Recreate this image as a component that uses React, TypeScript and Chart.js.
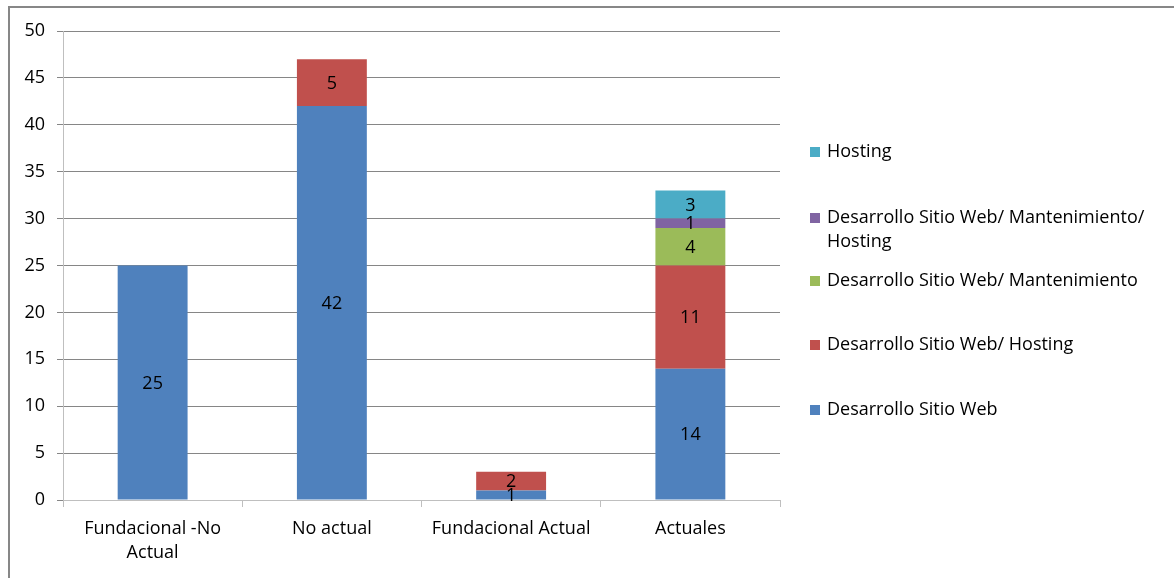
import React, { useEffect, useRef } from "react";
import { Chart, registerables } from "chart.js";

Chart.register(...registerables);

const categories: (string | string[])[] = [
  ["Fundacional -No", "Actual"],
  "No actual",
  "Fundacional Actual",
  "Actuales",
];

const seriesNames = [
  "Desarrollo Sitio Web",
  "Desarrollo Sitio Web/ Hosting",
  "Desarrollo Sitio Web/ Mantenimiento",
  "Desarrollo Sitio Web/ Mantenimiento/ Hosting",
  "Hosting",
];

const desarrollo = [25, 42, 1, 14];
const desarrolloHosting = [null, 5, 2, 11];
const desarrolloMant = [null, null, null, 4];
const desarrolloMantHosting = [null, null, null, 1];
const hosting = [null, null, null, 3];

const seriesColors = ["#4F81BD", "#C0504D", "#9BBB59", "#8064A2", "#4BACC6"];

const yTicks = [0, 5, 10, 15, 20, 25, 30, 35, 40, 45, 50];

const FONT = "'Open Sans', 'Noto Sans', sans-serif";
const FONT_SIZE = 18;

// Legend lines for each series (wrapped like a narrow legend box)
const legendLines: Record<string, string[]> = {
  "Hosting": ["Hosting"],
  "Desarrollo Sitio Web/ Mantenimiento/ Hosting": ["Desarrollo Sitio Web/ Mantenimiento/", "Hosting"],
  "Desarrollo Sitio Web/ Mantenimiento": ["Desarrollo Sitio Web/ Mantenimiento"],
  "Desarrollo Sitio Web/ Hosting": ["Desarrollo Sitio Web/ Hosting"],
  "Desarrollo Sitio Web": ["Desarrollo Sitio Web"],
};

const valueLabels = {
  id: "valueLabels",
  afterDatasetsDraw(chart: any) {
    const ctx = chart.ctx;
    ctx.save();
    ctx.font = `${FONT_SIZE}px ${FONT}`;
    ctx.fillStyle = "#000";
    ctx.textAlign = "center";
    ctx.textBaseline = "middle";
    chart.data.datasets.forEach((ds: any, di: number) => {
      const meta = chart.getDatasetMeta(di);
      meta.data.forEach((bar: any, i: number) => {
        const v = ds.data[i];
        if (v == null) return;
        const { x, y, base } = bar.getProps(["x", "y", "base"], true);
        ctx.fillText(String(v), x, (y + base) / 2 + 1);
      });
    });
    ctx.restore();
  },
};

const sideLegend = {
  id: "sideLegend",
  afterDraw(chart: any) {
    const ctx = chart.ctx;
    const area = chart.chartArea;
    const x0 = area.right + 30;
    const rowTops = [144, 210, 273, 337, 402];
    const lineH = 24;
    ctx.save();
    ctx.font = `${FONT_SIZE}px ${FONT}`;
    ctx.textBaseline = "middle";
    ctx.textAlign = "left";
    const order = chart.data.datasets.map((_: any, i: number) => i).reverse();
    order.forEach((di: number, k: number) => {
      const ds = chart.data.datasets[di];
      const y = rowTops[k];
      ctx.fillStyle = ds.backgroundColor;
      ctx.fillRect(x0, y - 5, 10, 10);
      ctx.fillStyle = "#000";
      (legendLines[ds.label] || [ds.label]).forEach((line: string, li: number) => {
        ctx.fillText(line, x0 + 17, y + li * lineH);
      });
    });
    ctx.restore();
  },
};

export default function App() {
  const ref = useRef<HTMLCanvasElement | null>(null);

  useEffect(() => {
    if (!ref.current) return;
    const allSeries = [desarrollo, desarrolloHosting, desarrolloMant, desarrolloMantHosting, hosting];
    const chart = new Chart(ref.current, {
      type: "bar",
      data: {
        labels: categories,
        datasets: allSeries.map((data, i) => ({
          label: seriesNames[i],
          data,
          backgroundColor: seriesColors[i],
          borderWidth: 0,
          categoryPercentage: 1,
          barPercentage: 0.39,
        })),
      },
      options: {
        animation: false,
        responsive: false,
        maintainAspectRatio: false,
        layout: { padding: { left: 0, right: 394, top: 23, bottom: 0 } },
        plugins: {
          legend: { display: false },
          tooltip: { enabled: false },
        },
        scales: {
          x: {
            stacked: true,
            offset: true,
            afterFit(scale: any) {
              scale.height = 78;
            },
            grid: {
              display: true,
              offset: true,
              drawOnChartArea: false,
              drawTicks: true,
              tickLength: 7,
              color: "#BFBFBF",
            },
            border: { color: "#BFBFBF", width: 1 },
            ticks: {
              color: "#000",
              font: { family: FONT, size: FONT_SIZE, lineHeight: 1.33 },
              padding: 10,
              maxRotation: 0,
              autoSkip: false,
            },
          },
          y: {
            stacked: true,
            min: 0,
            max: 50,
            afterFit(scale: any) {
              scale.width = 53;
            },
            afterBuildTicks(scale: any) {
              scale.ticks = yTicks.map((v) => ({ value: v }));
            },
            grid: {
              color: "#868686",
              tickLength: 6,
              drawTicks: true,
            },
            border: { color: "#BFBFBF", width: 1 },
            ticks: {
              color: "#000",
              font: { family: FONT, size: FONT_SIZE },
              padding: 12,
            },
          },
        },
      },
      plugins: [valueLabels, sideLegend],
    });
    return () => chart.destroy();
  }, []);

  return (
    <div
      style={{
        position: "absolute",
        left: 8,
        top: 6,
        width: 1164,
        height: 570,
        borderLeft: "2px solid #878787",
        borderTop: "2px solid #878787",
        overflow: "hidden",
      }}
    >
      <canvas ref={ref} width={1164} height={570} style={{ display: "block" }} />
    </div>
  );
}
